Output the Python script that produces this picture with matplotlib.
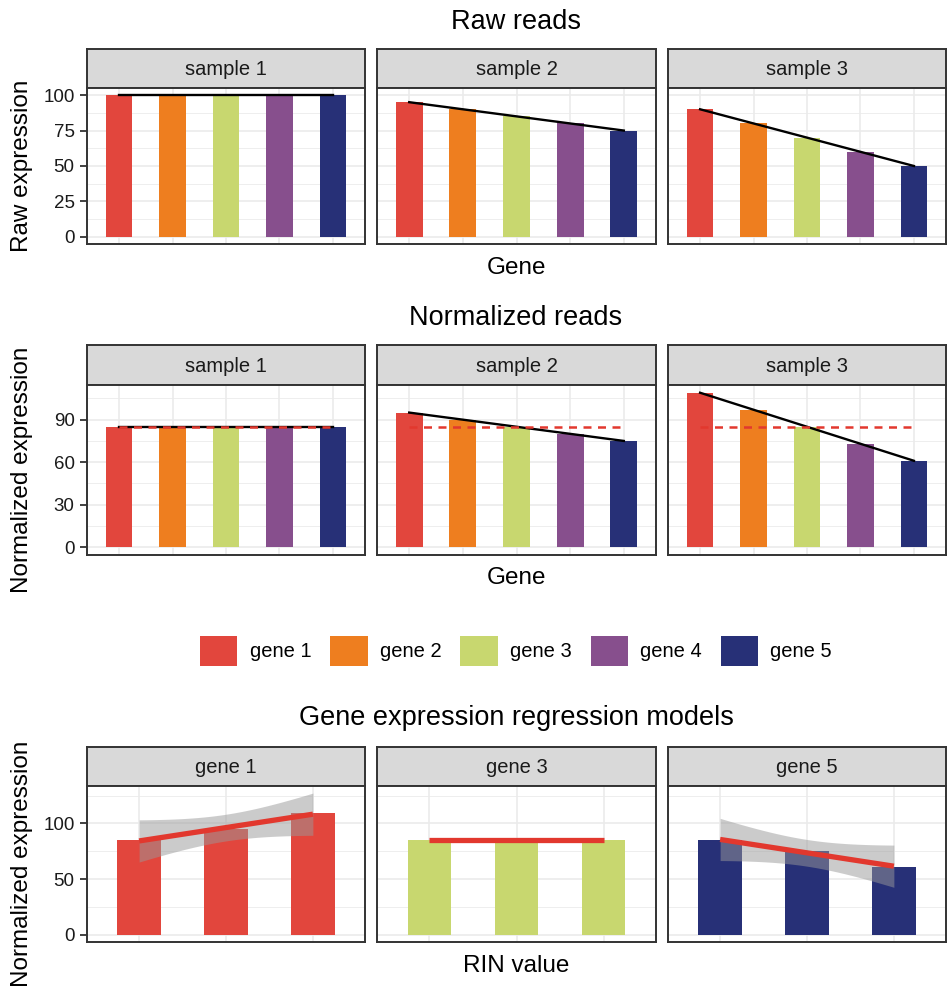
import matplotlib
matplotlib.use("Agg")
import matplotlib.pyplot as plt
from matplotlib.patches import Patch
from matplotlib.ticker import MultipleLocator
import numpy as np

plt.rcParams['font.family'] = ['Liberation Sans', 'DejaVu Sans']

# data
genes = ["gene 1", "gene 2", "gene 3", "gene 4", "gene 5"]
samples = ["sample 1", "sample 2", "sample 3"]
gene_colors = ["#E2463D", "#EE7E1F", "#C8D76F", "#874F8D", "#273077"]

raw_reads = {
    "sample 1": [100, 100, 100, 100, 100],
    "sample 2": [95, 90, 85, 80, 75],
    "sample 3": [90, 80, 70, 60, 50],
}
norm_reads = {
    "sample 1": [85, 85, 85, 85, 85],
    "sample 2": [95, 90, 85, 80, 75],
    "sample 3": [109, 97, 85, 73, 61],
}
model_genes = ["gene 1", "gene 3", "gene 5"]
rin_pos = [1, 2, 3]

W, H = 947, 994
fig = plt.figure(figsize=(W / 100, H / 100), dpi=100)

col_x = [(87, 365), (377, 656), (668, 946)]
BORDER = "#333333"
GRID = "#EBEBEB"
TXT = "#1A1A1A"
REG_RED = "#E2382E"


def rect(x0, y0, x1, y1):
    return [x0 / W, 1 - y1 / H, (x1 - x0) / W, (y1 - y0) / H]


def make_panel(xs, strip_y, panel_y, label, first):
    sax = fig.add_axes(rect(xs[0], strip_y[0], xs[1], strip_y[1]))
    sax.set_facecolor("#D9D9D9")
    sax.set_xticks([])
    sax.set_yticks([])
    for s in sax.spines.values():
        s.set_color(BORDER)
        s.set_linewidth(1.4)
    sax.text(0.5, 0.47, label, ha="center", va="center", fontsize=14.5,
             color=TXT, transform=sax.transAxes)

    ax = fig.add_axes(rect(xs[0], panel_y[0], xs[1], panel_y[1]))
    for s in ax.spines.values():
        s.set_color(BORDER)
        s.set_linewidth(1.4)
        s.set_zorder(5)
    ax.set_axisbelow(True)
    ax.grid(which="major", color=GRID, lw=1.2)
    ax.grid(which="minor", axis="y", color=GRID, lw=0.6)
    ax.tick_params(axis="x", length=0, labelbottom=False)
    ax.tick_params(axis="y", which="major", length=5, width=1.3, color=BORDER,
                   labelsize=13.5, labelcolor=TXT, pad=4)
    ax.tick_params(axis="y", which="minor", length=0)
    if not first:
        ax.tick_params(axis="y", which="major", length=0, labelleft=False)
    return ax


def bar_row(data, strip_y, panel_y, ylim, ystep, norm):
    x = np.arange(1, len(genes) + 1)
    for i, s in enumerate(samples):
        ax = make_panel(col_x[i], strip_y, panel_y, s, i == 0)
        vals = np.array(data[s], dtype=float)
        ax.bar(x, vals, width=0.5, color=gene_colors, zorder=2)
        k, b = np.polyfit(x, vals, 1)
        ax.plot([x[0], x[-1]], [k * x[0] + b, k * x[-1] + b], color="black",
                lw=1.7, zorder=3)
        if norm:
            m = np.mean(vals)
            ax.plot([x[0], x[-1]], [m, m], color=REG_RED, lw=1.8,
                    dashes=(3.2, 2.6), zorder=4)
        ax.set_xticks(x)
        ax.set_xlim(0.4, len(genes) + 0.6)
        ax.set_ylim(*ylim)
        ax.yaxis.set_major_locator(MultipleLocator(ystep))
        ax.yaxis.set_minor_locator(MultipleLocator(ystep / 2))


bar_row(raw_reads, (49, 88), (88, 244), (-5, 105), 25, False)
bar_row(norm_reads, (345, 385), (385, 555), (-5.45, 114.45), 30, True)

# regression models (lm fit with 95% band, as geom_smooth draws it)
T975_DF1 = 12.706
xfine = np.linspace(1, 3, 80)
fits = []
for g in model_genes:
    gi = genes.index(g)
    y = np.array([norm_reads[s][gi] for s in samples], dtype=float)
    xr = np.array(rin_pos, dtype=float)
    k, b = np.polyfit(xr, y, 1)
    res = y - (k * xr + b)
    sigma = np.sqrt(np.sum(res ** 2) / (len(y) - 2))
    se = sigma * np.sqrt(1 / len(y) + (xfine - xr.mean()) ** 2
                         / np.sum((xr - xr.mean()) ** 2))
    fit = k * xfine + b
    fits.append((gi, y, fit, fit - T975_DF1 * se, fit + T975_DF1 * se))

top = max(f[4].max() for f in fits)
ylim3 = (-0.05 * top, 1.05 * top)
for i, (gi, y, fit, lo, hi) in enumerate(fits):
    ax = make_panel(col_x[i], (747, 786), (786, 942), model_genes[i], i == 0)
    ax.bar(rin_pos, y, width=0.5, color=gene_colors[gi], zorder=2)
    ax.fill_between(xfine, lo, hi, color="#999999", alpha=0.5, lw=0, zorder=3)
    ax.plot(xfine, fit, color=REG_RED, lw=3.8, zorder=4,
            solid_capstyle="butt")
    ax.set_xticks(rin_pos)
    ax.set_xlim(0.4, 3.6)
    ax.set_ylim(*ylim3)
    ax.yaxis.set_major_locator(MultipleLocator(50))
    ax.yaxis.set_minor_locator(MultipleLocator(25))

# titles and axis labels
cx = 516 / W
fig.text(cx, 1 - 22 / H, "Raw reads", ha="center", va="center", fontsize=19.5)
fig.text(cx, 1 - 318 / H, "Normalized reads", ha="center", va="center", fontsize=19.5)
fig.text(cx, 1 - 718 / H, "Gene expression regression models", ha="center",
         va="center", fontsize=19.5)
fig.text(cx, 1 - 268 / H, "Gene", ha="center", va="center", fontsize=17.5)
fig.text(cx, 1 - 578 / H, "Gene", ha="center", va="center", fontsize=17.5)
fig.text(cx, 1 - 966 / H, "RIN value", ha="center", va="center", fontsize=17.5)
fig.text(22 / W, 1 - 166 / H, "Raw expression", ha="center", va="center",
         rotation=90, fontsize=17.5)
fig.text(22 / W, 1 - 470 / H, "Normalized expression", ha="center", va="center",
         rotation=90, fontsize=17.5)
fig.text(22 / W, 1 - 864 / H, "Normalized expression", ha="center", va="center",
         rotation=90, fontsize=17.5)

handles = [Patch(facecolor=c, edgecolor="none") for c in gene_colors]
fig.legend(handles, genes, loc="center", bbox_to_anchor=(cx, 1 - 651 / H),
           ncol=5, frameon=False, fontsize=14.5, handlelength=1.85,
           handleheight=1.85, handletextpad=0.6, columnspacing=0.95)

fig.savefig("out.png", dpi=100)
